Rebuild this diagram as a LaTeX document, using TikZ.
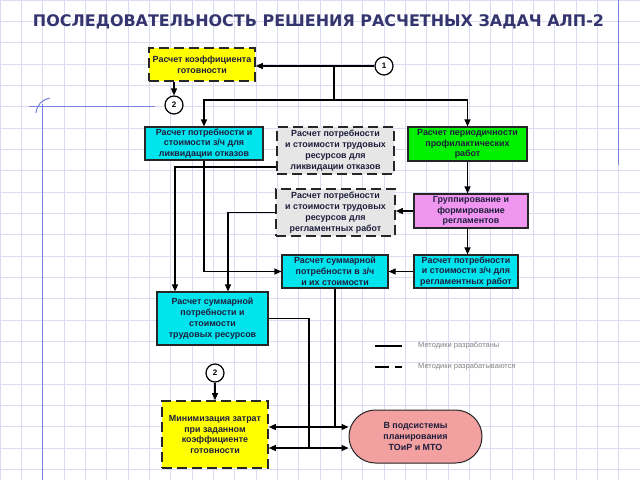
\documentclass[tikz,border=0pt]{standalone}
\usepackage{fontspec}
\setmainfont{Liberation Sans}
\newfontfamily\titlefont{DejaVu Sans}
\usetikzlibrary{arrows.meta,shapes.misc}
\definecolor{gridc}{RGB}{218,221,242}
\definecolor{marginc}{RGB}{120,130,220}
\definecolor{titlec}{RGB}{52,52,110}
\definecolor{txtc}{RGB}{30,30,60}
\definecolor{cyanf}{RGB}{0,228,238}
\definecolor{greenf}{RGB}{0,240,0}
\definecolor{yellowf}{RGB}{255,255,0}
\definecolor{grayf}{RGB}{230,230,230}
\definecolor{magf}{RGB}{240,150,240}
\definecolor{pinkf}{RGB}{242,160,160}
\definecolor{legc}{RGB}{130,130,130}
\tikzset{
  box/.style={draw=black!85, line width=1.2pt, align=center, inner sep=0pt,
    font=\fontsize{8.9}{10.8}\selectfont\bfseries, text=txtc},
  solidbox/.style={box},
  dashbox/.style={box, line width=1.6pt, dash pattern=on 10pt off 5pt},
  numcirc/.style={circle, draw=black, line width=1.2pt, fill=white, minimum size=18pt,
    inner sep=0pt, font=\fontsize{8}{9}\selectfont\bfseries},
  conn/.style={line width=1.2pt, draw=black},
  arr/.style={conn, -{Triangle[length=7pt,width=6pt]}},
  darr/.style={conn, {Triangle[length=7pt,width=6pt]}-{Triangle[length=7pt,width=6pt]}},
  legtext/.style={anchor=west, text=legc, font=\fontsize{7.5}{8}\selectfont, inner sep=0pt}
}
\begin{document}
\begin{tikzpicture}[x=1pt,y=-1pt]
\useasboundingbox (0,0) rectangle (640,480);
\fill[white] (0,0) rectangle (640,480);
% grid paper
\foreach \i in {0,...,30} {\draw[gridc, line width=0.8pt] ({\i*21.3333},0) -- ({\i*21.3333},480);}
\foreach \j in {0,...,22} {\draw[gridc, line width=0.8pt] (0,{\j*21.3333}) -- (640,{\j*21.3333});}
% margin lines
\draw[marginc, line width=1pt] (618,0) -- (618,165);
\draw[marginc, line width=1pt] (42,104) -- (42,480);
\draw[marginc, line width=1pt] (29,106) -- (155,106);
\draw[marginc, line width=1pt] (36,113) .. controls (37,104) and (42,100) .. (50,98);
% title
\node[text=titlec, font=\titlefont\bfseries, inner sep=0pt] (title) at (318.5,22)
  {\resizebox{571pt}{!}{ПОСЛЕДОВАТЕЛЬНОСТЬ РЕШЕНИЯ РАСЧЕТНЫХ ЗАДАЧ АЛП-2}};
% boxes
\node[dashbox, fill=yellowf, minimum width=106pt, minimum height=33pt] (b1) at (202,64.5)
  {Расчет коэффициента\\готовности};
\node[numcirc] (c1) at (384,66) {1};
\node[numcirc] (c2a) at (174,105) {2};
\node[solidbox, fill=cyanf, minimum width=118pt, minimum height=33pt] (b4) at (204,143.5)
  {Расчет потребности и\\стоимости з/ч для\\ликвидации отказов};
\node[dashbox, fill=grayf, minimum width=117pt, minimum height=47pt] (b5) at (335.5,150.5)
  {Расчет потребности\\и стоимости трудовых\\ресурсов для\\ликвидации отказов};
\node[solidbox, fill=greenf, minimum width=119pt, minimum height=34pt] (b6) at (467.5,144)
  {Расчет периодичности\\профилактических\\работ};
\node[dashbox, fill=grayf, minimum width=119pt, minimum height=47pt] (b7) at (335.5,212.5)
  {Расчет потребности\\и стоимости трудовых\\ресурсов для\\регламентных работ};
\node[solidbox, fill=magf, minimum width=114pt, minimum height=34pt] (b8) at (471,211)
  {Группирование и\\формирование\\регламентов};
\node[solidbox, fill=cyanf, minimum width=106pt, minimum height=33pt] (b9) at (335,271.5)
  {Расчет суммарной\\потребности в з/ч\\и их стоимости};
\node[solidbox, fill=cyanf, minimum width=104pt, minimum height=33pt] (b10) at (466,271.5)
  {Расчет потребности\\и стоимости з/ч для\\регламентных работ};
\node[solidbox, fill=cyanf, minimum width=111pt, minimum height=53pt] (b11) at (212.5,318.5)
  {Расчет суммарной\\потребности и\\стоимости\\трудовых ресурсов};
\node[numcirc] (c2b) at (215,373) {2};
\node[dashbox, fill=yellowf, minimum width=106pt, minimum height=67pt] (b13) at (215,434.5)
  {Минимизация затрат\\при заданном\\коэффициенте\\готовности};
\node[box, rounded rectangle, fill=pinkf, line width=1pt, minimum width=133pt, minimum height=53pt] (ov) at (415.5,436.5)
  {В подсистемы\\планирования\\ТОиР и МТО};
% connectors
\coordinate (j1) at (334,66);
\coordinate (j2) at (334,100);
\draw[arr] (c1.west) -- (b1.east |- c1.west);
\draw[conn] (j1) -- (j2);
\draw[arr] (j2) -| (b4.north);
\draw[arr] (j2) -| (b6.north);
\draw[arr] (b1.south -| c2a) -- (c2a.north);
\draw[arr] (b4.south) |- (b9.west);
\coordinate (k1) at (175,167);
\draw[arr] (b5.west |- k1) -| (k1 |- b11.north);
\coordinate (k2) at (228,212);
\draw[arr] (b7.west) -| (k2 |- b11.north);
\draw[arr] (b8.west) -- (b7.east |- b8.west);
\draw[arr] (b6.south) -- (b6.south |- b8.north);
\draw[arr] (b6.south |- b8.south) -- (b6.south |- b10.north);
\draw[arr] (b10.west) -- (b9.east);
\coordinate (k3) at (309,448);
\coordinate (k4) at (335,427);
\draw[conn] (b11.east) -| (k3);
\draw[conn] (b9.south) -- (b9.south |- k4);
\draw[darr] (b13.east |- k4) -- (ov.west |- k4);
\draw[darr] (b13.east |- k3) -- (ov.west |- k3);
\draw[arr] (c2b.south) -- (b13.north);
% legend
\coordinate (la1) at (375,346); \coordinate (la2) at (402,346);
\coordinate (lb1) at (375,367); \coordinate (lb2) at (402,367);
\draw[conn] (la1) -- (la2);
\draw[conn, dash pattern=on 14pt off 6pt] (lb1) -- (lb2);
\node[legtext] (lt1) at (418,346) {Методики разработаны};
\node[legtext] (lt2) at (418,367) {Методики разрабатываются};
\end{tikzpicture}
\end{document}
